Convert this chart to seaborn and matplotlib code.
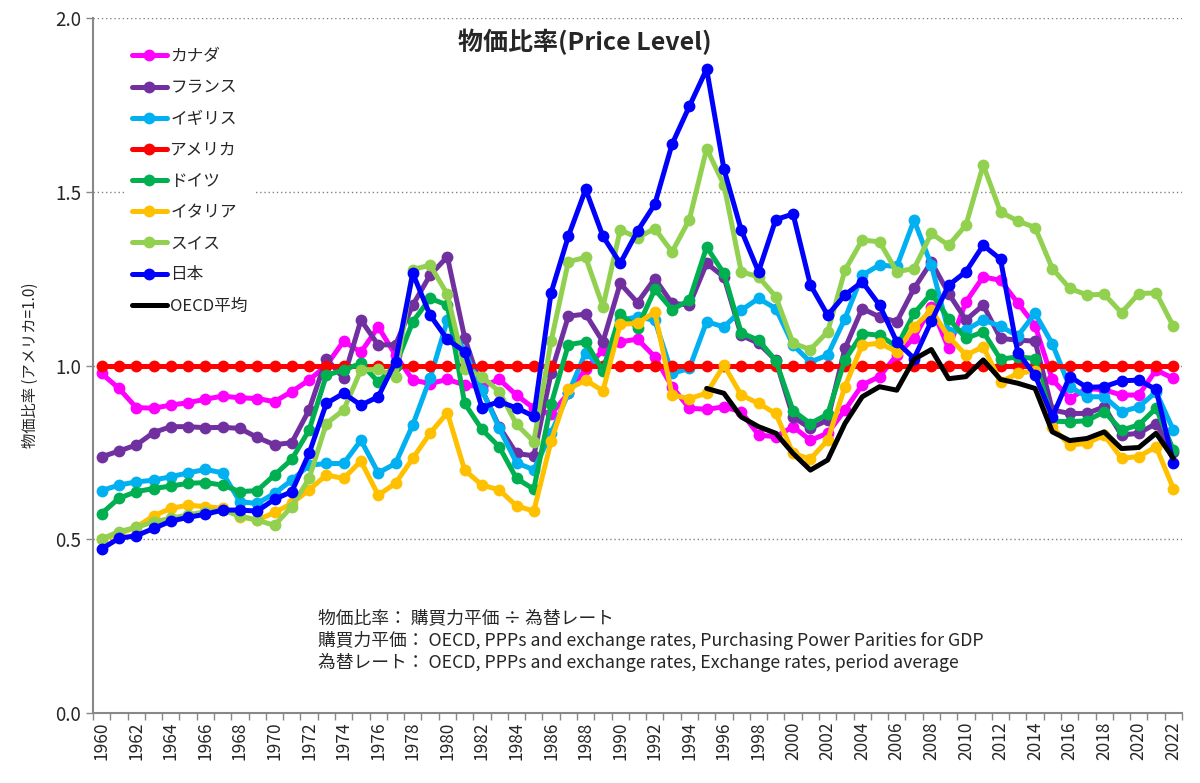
import numpy as np
import pandas as pd
import matplotlib
matplotlib.use('Agg')
import matplotlib.pyplot as plt
import seaborn as sns

years = list(range(1960, 2023))

canada = [0.977, 0.934, 0.879, 0.877, 0.886, 0.893, 0.903, 0.912, 0.907, 0.905,
          0.896, 0.925, 0.958, 1.000, 1.070, 1.038, 1.111, 1.030, 0.958, 0.948,
          0.960, 0.944, 0.939, 0.960, 0.915, 0.877, 0.860, 0.920, 0.990, 1.044,
          1.068, 1.076, 1.025, 0.939, 0.877, 0.874, 0.881, 0.867, 0.800, 0.795,
          0.824, 0.785, 0.805, 0.872, 0.944, 0.968, 1.030, 1.080, 1.169, 1.049,
          1.183, 1.255, 1.245, 1.180, 1.115, 0.960, 0.905, 0.934, 0.930, 0.915,
          0.915, 0.987, 0.963]

france = [0.737, 0.754, 0.771, 0.807, 0.824, 0.824, 0.821, 0.822, 0.819, 0.793,
          0.772, 0.778, 0.872, 1.020, 0.963, 1.131, 1.059, 1.060, 1.174, 1.260,
          1.313, 1.080, 0.930, 0.824, 0.747, 0.740, 0.978, 1.142, 1.148, 1.068,
          1.236, 1.181, 1.250, 1.179, 1.174, 1.294, 1.255, 1.087, 1.064, 1.015,
          0.852, 0.819, 0.843, 1.049, 1.164, 1.140, 1.126, 1.222, 1.298, 1.207,
          1.131, 1.174, 1.078, 1.073, 1.070, 0.872, 0.862, 0.862, 0.881, 0.800,
          0.805, 0.833, 0.752]

uk = [0.640, 0.656, 0.665, 0.670, 0.680, 0.691, 0.701, 0.691, 0.608, 0.603,
      0.632, 0.670, 0.713, 0.718, 0.718, 0.785, 0.691, 0.718, 0.829, 0.963,
      1.130, 1.040, 0.930, 0.820, 0.720, 0.700, 0.805, 0.920, 1.037, 0.990,
      1.130, 1.140, 1.130, 0.977, 0.992, 1.126, 1.111, 1.159, 1.193, 1.164,
      1.059, 1.010, 1.030, 1.135, 1.260, 1.289, 1.285, 1.418, 1.289, 1.097,
      1.102, 1.131, 1.113, 1.085, 1.150, 1.062, 0.939, 0.910, 0.910, 0.867,
      0.881, 0.924, 0.814]

usa = [1.0] * 63

germany = [0.574, 0.618, 0.637, 0.646, 0.653, 0.661, 0.663, 0.656, 0.637, 0.640,
           0.685, 0.730, 0.814, 0.972, 0.987, 1.006, 0.953, 1.000, 1.126, 1.193,
           1.174, 0.891, 0.816, 0.766, 0.675, 0.644, 0.888, 1.060, 1.068, 0.985,
           1.148, 1.109, 1.219, 1.161, 1.188, 1.341, 1.265, 1.094, 1.073, 1.014,
           0.870, 0.833, 0.860, 1.016, 1.092, 1.087, 1.054, 1.150, 1.207, 1.135,
           1.078, 1.097, 1.018, 1.025, 1.020, 0.840, 0.838, 0.841, 0.867, 0.814,
           0.829, 0.877, 0.757]

italy = [0.500, 0.515, 0.535, 0.567, 0.589, 0.598, 0.594, 0.589, 0.565, 0.555,
         0.577, 0.603, 0.642, 0.685, 0.675, 0.725, 0.627, 0.661, 0.733, 0.805,
         0.864, 0.699, 0.656, 0.642, 0.596, 0.581, 0.782, 0.932, 0.958, 0.927,
         1.119, 1.121, 1.154, 0.915, 0.905, 0.920, 1.001, 0.915, 0.891, 0.862,
         0.747, 0.731, 0.785, 0.939, 1.059, 1.064, 1.040, 1.111, 1.159, 1.083,
         1.030, 1.054, 0.953, 0.977, 0.985, 0.822, 0.771, 0.776, 0.800, 0.733,
         0.738, 0.766, 0.646]

swiss = [0.501, 0.522, 0.534, 0.550, 0.560, 0.570, 0.579, 0.584, 0.567, 0.555,
         0.540, 0.594, 0.675, 0.833, 0.872, 0.987, 0.989, 0.968, 1.276, 1.289,
         1.205, 0.990, 0.968, 0.925, 0.831, 0.781, 1.070, 1.299, 1.311, 1.169,
         1.390, 1.368, 1.394, 1.327, 1.420, 1.624, 1.520, 1.270, 1.255, 1.198,
         1.064, 1.046, 1.097, 1.274, 1.361, 1.356, 1.270, 1.279, 1.380, 1.346,
         1.404, 1.577, 1.442, 1.416, 1.397, 1.279, 1.222, 1.203, 1.205, 1.152,
         1.207, 1.209, 1.113]

japan = [0.472, 0.503, 0.510, 0.531, 0.552, 0.563, 0.572, 0.584, 0.584, 0.581,
         0.615, 0.637, 0.747, 0.891, 0.920, 0.886, 0.910, 1.011, 1.265, 1.145,
         1.075, 1.040, 0.879, 0.896, 0.878, 0.854, 1.209, 1.372, 1.507, 1.372,
         1.294, 1.387, 1.464, 1.637, 1.746, 1.853, 1.565, 1.390, 1.270, 1.420,
         1.436, 1.232, 1.145, 1.203, 1.241, 1.174, 1.068, 1.020, 1.128, 1.231,
         1.270, 1.346, 1.306, 1.037, 0.972, 0.852, 0.968, 0.937, 0.939, 0.956,
         0.958, 0.931, 0.720]

oecd_years = list(range(1995, 2023))
oecd = [0.934, 0.920, 0.852, 0.824, 0.805, 0.747, 0.699, 0.728, 0.833, 0.910,
        0.939, 0.929, 1.018, 1.046, 0.962, 0.968, 1.016, 0.960, 0.949, 0.934,
        0.809, 0.784, 0.790, 0.809, 0.761, 0.764, 0.805, 0.733]

names = ['カナダ', 'フランス', 'イギリス', 'アメリカ', 'ドイツ', 'イタリア', 'スイス', '日本']
colors = ['#FF00FF', '#7030A0', '#00B0F0', '#FF0000', '#00B050', '#FFC000', '#92D050', '#0000FF']
values = [canada, france, uk, usa, germany, italy, swiss, japan]

title = '物価比率(Price Level)'
ylabel = '物価比率 (アメリカ=1.0)'
notes = ['物価比率： 購買力平価 ÷ 為替レート',
         '購買力平価： OECD, PPPs and exchange rates, Purchasing Power Parities for GDP',
         '為替レート： OECD, PPPs and exchange rates, Exchange rates, period average']

sns.set_theme(style='white')
plt.rcParams['font.family'] = ['Noto Sans CJK JP', 'DejaVu Sans']

fig = plt.figure(figsize=(12, 7.83), dpi=100)
ax = fig.add_axes([0.0775, 0.0894, 0.9075, 0.8876])

for name, vals, col in zip(names, values, colors):
    sns.lineplot(x=years, y=vals, ax=ax, color=col, linewidth=3.6, marker='o',
                 markersize=8.5, markeredgewidth=0, label=name)
sns.lineplot(x=oecd_years, y=oecd, ax=ax, color='black', linewidth=3.6, label='OECD平均')

ax.set_xlim(1959.5, 2022.5)
ax.set_ylim(0, 2.0)
ax.set_yticks([0, 0.5, 1.0, 1.5, 2.0])
ax.set_yticklabels([f'{v:.1f}' for v in [0, 0.5, 1.0, 1.5, 2.0]], fontsize=13.5)
ax.set_xticks(list(range(1960, 2023, 2)))
ax.set_xticklabels([str(y) for y in range(1960, 2023, 2)], rotation=90, fontsize=12.5)
ax.set_xticks(np.arange(1959.5, 2023, 1.0), minor=True)
ax.tick_params(axis='x', which='major', length=0, pad=6)
ax.tick_params(axis='x', which='minor', bottom=True, length=5, width=1, color='#888888', direction='out')
ax.tick_params(axis='y', which='major', left=True, length=5, width=1, color='#888888', direction='out')

ax.yaxis.grid(True, linestyle=(0, (1, 2)), color='#808080', linewidth=1)
ax.xaxis.grid(False)
ax.set_axisbelow(True)
for s in ['top', 'right']:
    ax.spines[s].set_visible(False)
for s in ['left', 'bottom']:
    ax.spines[s].set_color('#888888')
    ax.spines[s].set_linewidth(1.5)

ax.set_xlabel('')
ax.set_ylabel(ylabel, fontsize=11, labelpad=12)

ax.text(0.452, 0.965, title, transform=ax.transAxes, ha='center', va='center',
        fontsize=18, fontweight='bold')
for i, t in enumerate(notes):
    ax.text(0.207, 0.137 - i * 0.032, t, transform=ax.transAxes, ha='left', va='center', fontsize=12.8)

leg = ax.legend(loc='upper left', bbox_to_anchor=(0.022, 0.978), frameon=True, facecolor='white',
                edgecolor='none', framealpha=1, fontsize=12, labelspacing=0.85, handlelength=2.1,
                handletextpad=0.2, borderpad=0.4)

fig.savefig('out.png', dpi=100)
